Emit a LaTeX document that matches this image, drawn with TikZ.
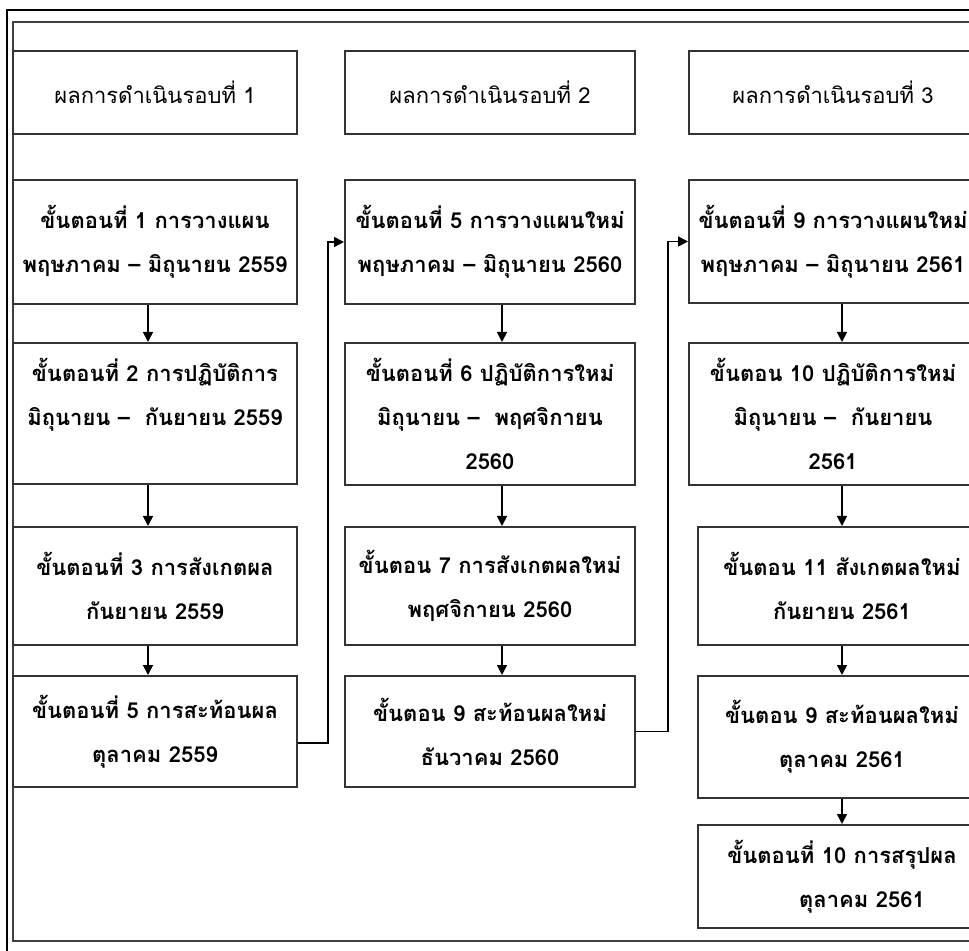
\documentclass[tikz,border=0pt]{standalone}
\usepackage{fontspec}
\newfontfamily\thaifont[Script=Thai]{Loma}
\usetikzlibrary{arrows.meta}

\tikzset{
  hdr/.style={draw=black!80, line width=1pt, inner sep=2pt, align=center,
    font={\thaifont\fontsize{11}{22}\selectfont}},
  stepbox/.style={hdr, font={\thaifont\bfseries\fontsize{11}{22}\selectfont}},
  arr/.style={-{Triangle[length=5pt,width=5pt]}, line width=0.8pt}
}

\begin{document}
\begin{tikzpicture}[x=0.5pt,y=-0.5pt]
\useasboundingbox (0,0) rectangle (969,951);
\clip (0,0) rectangle (969,951);

% frame
\draw[line width=1pt] (7,960) -- (7,10) -- (990,10);
\draw[black!75, line width=1pt] (13,941) rectangle (995,22);

% round 1
\begin{scope}[every node/.append style={minimum width=142pt}]
    \node[hdr, minimum height=41.5pt] (h1) at (155,92.5) {ผลการดำเนินรอบที่ 1};
    \node[stepbox, minimum height=62pt] (a1) at (155,242)
        {ขั้นตอนที่ 1 การวางแผน\\พฤษภาคม – มิถุนายน 2559};
    \node[stepbox, minimum height=70.5pt] (a2) at (155,413.5)
        {ขั้นตอนที่ 2 การปฏิบัติการ\\มิถุนายน – \ กันยายน 2559\\\mbox{}};
    \node[stepbox, minimum height=59pt] (a3) at (155,586)
        {ขั้นตอนที่ 3 การสังเกตผล\\กันยายน 2559};
    \node[stepbox, minimum height=55.5pt] (a4) at (155,731.5)
        {ขั้นตอนที่ 5 การสะท้อนผล\\ตุลาคม 2559};
\end{scope}

% round 2
\begin{scope}[every node/.append style={minimum width=145pt}]
    \node[hdr, minimum height=41.5pt] (h2) at (490,92.5) {ผลการดำเนินรอบที่ 2};
    \node[stepbox, minimum height=62pt] (b1) at (490,242)
        {ขั้นตอนที่ 5 การวางแผนใหม่\\พฤษภาคม – มิถุนายน 2560};
    \node[stepbox, minimum height=71pt] (b2) at (490,414)
        {ขั้นตอนที่ 6 ปฏิบัติการใหม่\\มิถุนายน – \ พฤศจิกายน\\2560};
    \node[stepbox, minimum height=59pt] (b3) at (490,586)
        {ขั้นตอน 7 การสังเกตผลใหม่\\พฤศจิกายน 2560};
    \node[stepbox, minimum height=55.5pt] (b4) at (490,731.5)
        {ขั้นตอน 9 สะท้อนผลใหม่\\ธันวาคม 2560};
\end{scope}

% round 3
\begin{scope}[every node/.append style={minimum width=144pt}]
    \node[hdr, minimum height=41.5pt] (h3) at (833,92.5) {ผลการดำเนินรอบที่ 3};
    \node[stepbox, minimum height=61.5pt] (c1) at (833,241.5)
        {ขั้นตอนที่ 9 การวางแผนใหม่\\พฤษภาคม – มิถุนายน 2561};
    \node[stepbox, minimum height=71pt] (c2) at (833,414)
        {ขั้นตอน 10 ปฏิบัติการใหม่\\มิถุนายน – \ กันยายน\\2561};
    \node[stepbox, minimum height=59pt] (c3) at (842,586)
        {ขั้นตอน 11 สังเกตผลใหม่\\กันยายน 2561};
    \node[stepbox, minimum height=61pt] (c4) at (842,737)
        {ขั้นตอน 9 สะท้อนผลใหม่\\ตุลาคม 2561};
    \node[stepbox, minimum height=51.5pt] (c5) at (842,876.5)
        {ขั้นตอนที่ 10 การสรุปผล\\\hspace*{20pt}ตุลาคม 2561};
\end{scope}

% arrows down
\foreach \u/\v in {a1/a2,a2/a3,a3/a4}
    \draw[arr] ([xshift=-3.5pt]\u.south) -- ([xshift=-3.5pt]\v.north);
\foreach \u/\v in {b1/b2,b2/b3,b3/b4}
    \draw[arr] ([xshift=6pt]\u.south) -- ([xshift=6pt]\v.north);
\foreach \u/\v in {c1/c2,c2/c3,c3/c4,c4/c5}
    \draw[arr] (\u.south -| c5.north) -- (\v.north -| c5.north);

% to the next round
\draw[arr] ([yshift=-5.75pt]a4.east) -- ++(30,0) |- (b1.west);
\draw[arr] (b4.east) -- ++(32,0) |- (c1.west);
\end{tikzpicture}
\end{document}
